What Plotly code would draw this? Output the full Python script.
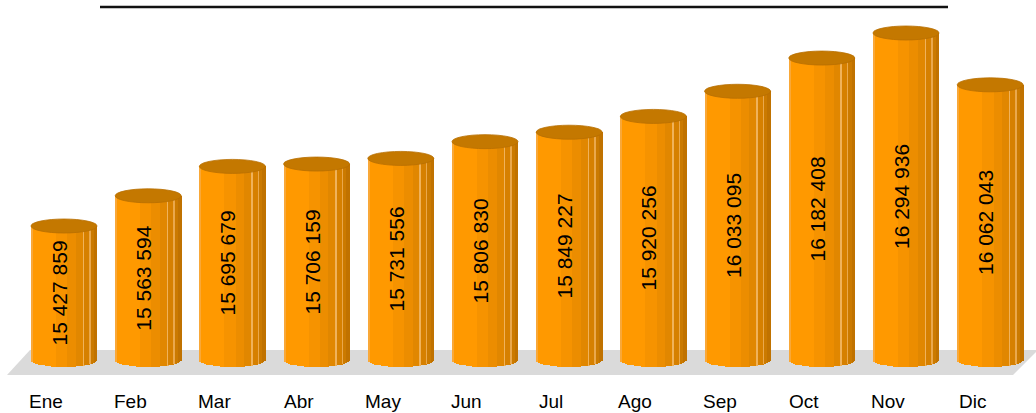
import math
import plotly.graph_objects as go

# ---- data ----
MONTHS = ["Ene", "Feb", "Mar", "Abr", "May", "Jun", "Jul", "Ago", "Sep", "Oct", "Nov", "Dic"]
VALUES = [15427859, 15563594, 15695679, 15706159, 15731556, 15806830,
          15849227, 15920256, 16033095, 16182408, 16294936, 16062043]

# ---- layout constants ----
W_PX, H_PX = 1036, 413
Y_TOP = 16443187
Y_BOT = 14587743
PX = (Y_TOP - Y_BOT) / H_PX          # data units per pixel (vertical)
BASE = Y_TOP - 360 * PX              # floor level of the cylinders
X_RANGE = [-0.760, 11.544]
BAR_W = 0.784
CAP_PX = 7                           # half-height of the elliptical caps

# gradient segments across the cylinder face (fractions of width, colour)
SEGMENTS = [
    (0.00, 0.03, "#f9a838"),
    (0.03, 0.38, "#ff9900"),
    (0.38, 0.55, "#f69300"),
    (0.55, 0.68, "#ec8d00"),
    (0.68, 0.79, "#e18700"),
    (0.79, 0.805, "#f0b25a"),
    (0.805, 0.89, "#d68000"),
    (0.89, 0.903, "#eaa84c"),
    (0.903, 0.96, "#cb7a00"),
    (0.96, 1.00, "#c07200"),
]

xs = list(range(len(VALUES)))
fig = go.Figure()

# cylinder bodies as narrow vertical strips (bottom follows an elliptical curve)
for (a, b, col) in SEGMENTS:
    n = max(1, int(math.ceil((b - a) * BAR_W / 0.03)))
    for k in range(n):
        s0 = a + (b - a) * k / n
        s1 = a + (b - a) * (k + 1) / n
        tc = (s0 + s1) / 2 * 2 - 1
        drop = CAP_PX * PX * math.sqrt(max(0.0, 1 - tc * tc))
        base = BASE - drop
        fig.add_trace(go.Bar(
            x=xs, y=[v - base for v in VALUES], base=base,
            width=(s1 - s0) * BAR_W + 0.004, offset=-BAR_W / 2 + s0 * BAR_W,
            marker=dict(color=col, line=dict(width=0)),
            hoverinfo="skip", showlegend=False,
        ))

# value labels (invisible bar carrying the text)
fig.add_trace(go.Bar(
    x=xs, y=[v - BASE for v in VALUES], base=BASE,
    width=BAR_W, offset=-BAR_W / 2 - 0.06,
    marker=dict(color="rgba(0,0,0,0)", line=dict(width=0)),
    text=[f"{v:,}".replace(",", " ") for v in VALUES],
    textangle=-90, textposition="inside", insidetextanchor="middle",
    textfont=dict(family="Liberation Sans, Arial", size=21, color="black"),
    constraintext="none",
    hoverinfo="skip", showlegend=False,
))

shapes = []
# floor
def P(x, y):
    return f"{x / W_PX:.5f},{1 - y / H_PX:.5f}"
shapes.append(dict(
    type="path", xref="paper", yref="paper", layer="below",
    path=f"M{P(7,375)} L{P(1013,375)} L{P(1038,350)} L{P(30,350)} Z",
    fillcolor="#dadada", line=dict(width=0),
))
# top line
shapes.append(dict(
    type="line", xref="paper", yref="paper",
    x0=100 / W_PX, x1=948 / W_PX, y0=1 - 7 / H_PX, y1=1 - 7 / H_PX,
    line=dict(color="#111111", width=2.5),
))
# top caps
for i, v in zip(xs, VALUES):
    shapes.append(dict(
        type="circle", xref="x", yref="y", layer="above",
        x0=i - BAR_W / 2, x1=i + BAR_W / 2,
        ysizemode="pixel", yanchor=v, y0=-CAP_PX, y1=CAP_PX,
        fillcolor="#c47800", line=dict(color="#b86f00", width=0.8),
    ))

annotations = []
for i, m in zip(xs, MONTHS):
    annotations.append(dict(
        x=i, xref="x", xshift=-18, y=1 - 401 / H_PX, yref="paper",
        text=m, showarrow=False, yanchor="middle", xanchor="center",
        font=dict(family="Liberation Sans, Arial", size=19, color="black"),
    ))

fig.update_layout(
    width=W_PX, height=H_PX,
    margin=dict(l=0, r=0, t=0, b=0),
    paper_bgcolor="white", plot_bgcolor="rgba(0,0,0,0)",
    barmode="overlay", bargap=0,
    showlegend=False, hovermode=False,
    shapes=shapes, annotations=annotations,
    xaxis=dict(range=X_RANGE, visible=False, fixedrange=True),
    yaxis=dict(range=[Y_BOT, Y_TOP], visible=False, fixedrange=True),
)

fig.write_html(
    "out.html",
    config={"displayModeBar": False},
    post_script="document.body.style.margin='0';document.body.style.overflow='hidden';",
)
